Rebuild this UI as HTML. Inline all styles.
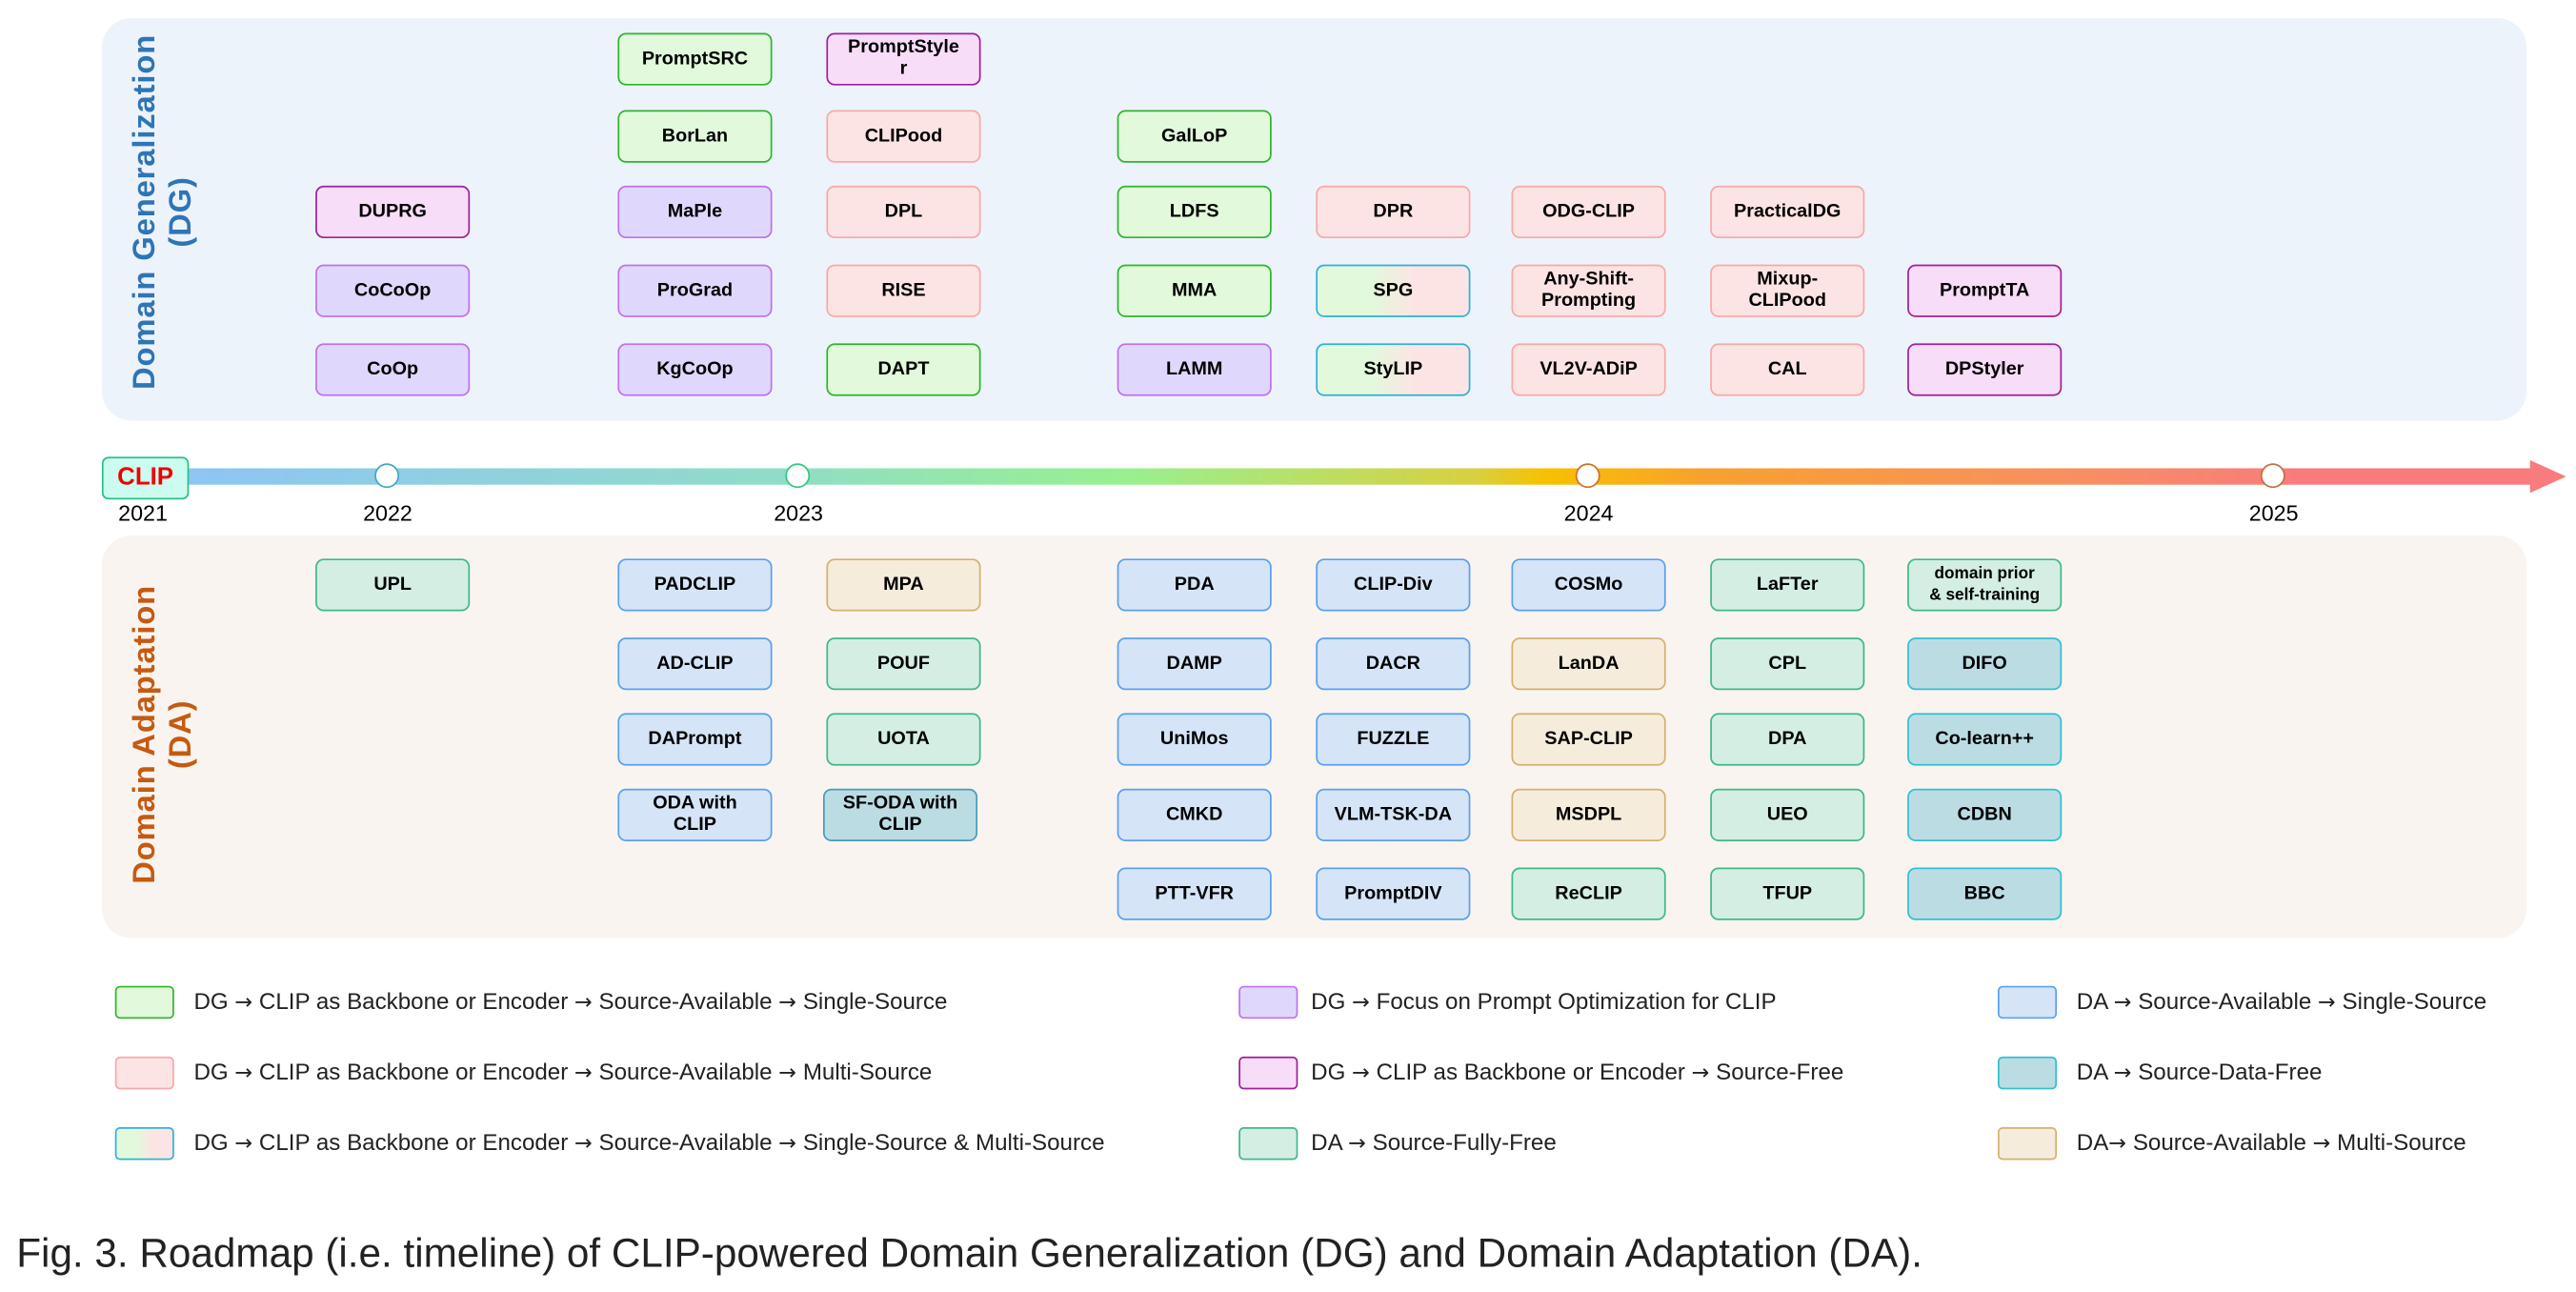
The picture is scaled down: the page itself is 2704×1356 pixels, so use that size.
<!DOCTYPE html>
<html><head><meta charset="utf-8">
<style>
html,body{margin:0;padding:0;background:#fff;}
body{width:2704px;height:1356px;overflow:hidden;position:relative;}
#s{position:absolute;left:0;top:0;width:1568px;height:786px;transform:scale(1.72449);transform-origin:0 0;font-family:"Liberation Sans",sans-serif;}
.p{position:absolute;border-radius:18px;}
.b{position:absolute;width:92px;height:30px;border-width:1.4px;border-style:solid;border-radius:5px;display:flex;align-items:center;justify-content:center;text-align:center;font-weight:bold;font-size:11.5px;line-height:13px;color:#000;box-sizing:content-box;}
.sw{position:absolute;width:34px;height:18px;border-width:1.4px;border-style:solid;border-radius:3px;}
.g{background:#e2f9dc;border-color:#2db52d}
.k{background:#f8ddf8;border-color:#a0209a}
.u{background:#e0d8fc;border-color:#c070f0}
.r{background:#fde4e4;border-color:#f8a8a8}
.m{background:linear-gradient(90deg,#e2f9dc 0,#e2f9dc 35%,#fde4e4 65%);border-color:#30b0d8}
.bl{background:#d6e4f8;border-color:#5aa0f0}
.f{background:#d4eee4;border-color:#40b888}
.d{background:#bcdce4;border-color:#30c0d0}
.ms{background:#f5ecdc;border-color:#d4b070}
.y{position:absolute;font-size:13.5px;color:#000;transform:translateX(-50%);top:305px;}
.c{position:absolute;width:13px;height:13px;border-radius:50%;background:#fff;border:1.4px solid;top:282px;}
.lt{position:absolute;font-size:14px;color:#222;white-space:nowrap;}
.a{font-family:"DejaVu Sans",sans-serif;font-size:13px;}
.vt{position:absolute;transform:rotate(-90deg);transform-origin:center;font-weight:bold;font-size:19px;text-align:center;line-height:22px;white-space:nowrap;letter-spacing:0.5px;}
</style></head><body><div id="s">
<div class="p" style="left:62px;top:11px;width:1476px;height:245px;background:#edf3fa"></div>
<div class="p" style="left:62px;top:326px;width:1476px;height:245px;background:#f9f4f0"></div>
<div class="vt" style="left:-20px;top:107px;width:240px;color:#2e75b6">Domain Generalization<br>(DG)</div>
<div class="vt" style="left:-20px;top:425px;width:240px;color:#c55a11">Domain Adaptation<br>(DA)</div>

<div style="position:absolute;left:112px;top:285px;width:1430px;height:10px;background:linear-gradient(90deg,#8ec5f5 0%,#90dcc8 25%,#98f090 40%,#d8d040 55%,#f8c000 58%,#f8a030 65%,#f89060 80%,#f87c7c 90%,#f87c7c 100%)"></div>
<div style="position:absolute;left:1540px;top:280px;width:0;height:0;border-top:10px solid transparent;border-bottom:10px solid transparent;border-left:22px solid #f87c7c"></div>
<div style="position:absolute;left:62px;top:278px;width:51px;height:24px;background:#ccfcf0;border:1.4px solid #2ac08a;border-radius:4px;color:#e00;font-weight:bold;font-size:15px;line-height:24px;text-align:center">CLIP</div>
<div class="c" style="left:228px;border-color:#40a8c0"></div>
<div class="c" style="left:478px;border-color:#30c880"></div>
<div class="c" style="left:959px;border-color:#d07020"></div>
<div class="c" style="left:1376px;border-color:#c07040"></div>
<div class="y" style="left:87px">2021</div><div class="y" style="left:236px">2022</div><div class="y" style="left:486px">2023</div><div class="y" style="left:967px">2024</div><div class="y" style="left:1384px">2025</div>

<!-- DG -->
<div class="b k" style="left:192px;top:113px">DUPRG</div>
<div class="b u" style="left:192px;top:161px">CoCoOp</div>
<div class="b u" style="left:192px;top:209px">CoOp</div>
<div class="b g" style="left:376px;top:20px">PromptSRC</div>
<div class="b g" style="left:376px;top:67px">BorLan</div>
<div class="b u" style="left:376px;top:113px">MaPle</div>
<div class="b u" style="left:376px;top:161px">ProGrad</div>
<div class="b u" style="left:376px;top:209px">KgCoOp</div>
<div class="b k" style="left:503px;top:20px">PromptStyle<br>r</div>
<div class="b r" style="left:503px;top:67px">CLIPood</div>
<div class="b r" style="left:503px;top:113px">DPL</div>
<div class="b r" style="left:503px;top:161px">RISE</div>
<div class="b g" style="left:503px;top:209px">DAPT</div>
<div class="b g" style="left:680px;top:67px">GalLoP</div>
<div class="b g" style="left:680px;top:113px">LDFS</div>
<div class="b g" style="left:680px;top:161px">MMA</div>
<div class="b u" style="left:680px;top:209px">LAMM</div>
<div class="b r" style="left:801px;top:113px">DPR</div>
<div class="b m" style="left:801px;top:161px">SPG</div>
<div class="b m" style="left:801px;top:209px">StyLIP</div>
<div class="b r" style="left:920px;top:113px">ODG-CLIP</div>
<div class="b r" style="left:920px;top:161px">Any-Shift-<br>Prompting</div>
<div class="b r" style="left:920px;top:209px">VL2V-ADiP</div>
<div class="b r" style="left:1041px;top:113px">PracticalDG</div>
<div class="b r" style="left:1041px;top:161px">Mixup-<br>CLIPood</div>
<div class="b r" style="left:1041px;top:209px">CAL</div>
<div class="b k" style="left:1161px;top:161px">PromptTA</div>
<div class="b k" style="left:1161px;top:209px">DPStyler</div>

<!-- DA -->
<div class="b f" style="left:192px;top:340px">UPL</div>
<div class="b bl" style="left:376px;top:340px">PADCLIP</div>
<div class="b bl" style="left:376px;top:388px">AD-CLIP</div>
<div class="b bl" style="left:376px;top:434px">DAPrompt</div>
<div class="b bl" style="left:376px;top:480px">ODA with<br>CLIP</div>
<div class="b ms" style="left:503px;top:340px">MPA</div>
<div class="b f" style="left:503px;top:388px">POUF</div>
<div class="b f" style="left:503px;top:434px">UOTA</div>
<div class="b d" style="left:501px;top:480px;border-color:#4a9ab8">SF-ODA with<br>CLIP</div>
<div class="b bl" style="left:680px;top:340px">PDA</div>
<div class="b bl" style="left:680px;top:388px">DAMP</div>
<div class="b bl" style="left:680px;top:434px">UniMos</div>
<div class="b bl" style="left:680px;top:480px">CMKD</div>
<div class="b bl" style="left:680px;top:528px">PTT-VFR</div>
<div class="b bl" style="left:801px;top:340px">CLIP-Div</div>
<div class="b bl" style="left:801px;top:388px">DACR</div>
<div class="b bl" style="left:801px;top:434px">FUZZLE</div>
<div class="b bl" style="left:801px;top:480px">VLM-TSK-DA</div>
<div class="b bl" style="left:801px;top:528px">PromptDIV</div>
<div class="b bl" style="left:920px;top:340px">COSMo</div>
<div class="b ms" style="left:920px;top:388px">LanDA</div>
<div class="b ms" style="left:920px;top:434px">SAP-CLIP</div>
<div class="b ms" style="left:920px;top:480px">MSDPL</div>
<div class="b f" style="left:920px;top:528px">ReCLIP</div>
<div class="b f" style="left:1041px;top:340px">LaFTer</div>
<div class="b f" style="left:1041px;top:388px">CPL</div>
<div class="b f" style="left:1041px;top:434px">DPA</div>
<div class="b f" style="left:1041px;top:480px">UEO</div>
<div class="b f" style="left:1041px;top:528px">TFUP</div>
<div class="b f" style="left:1161px;top:340px;font-size:10px;line-height:13px">domain prior<br>&amp; self-training</div>
<div class="b d" style="left:1161px;top:388px">DIFO</div>
<div class="b d" style="left:1161px;top:434px">Co-learn++</div>
<div class="b d" style="left:1161px;top:480px">CDBN</div>
<div class="b d" style="left:1161px;top:528px">BBC</div>

<!-- legend -->
<div class="sw g" style="left:70px;top:600px"></div><div class="lt" style="left:118px;top:601px">DG <span class="a">→</span> CLIP as Backbone or Encoder <span class="a">→</span> Source-Available <span class="a">→</span> Single-Source</div>
<div class="sw r" style="left:70px;top:643px"></div><div class="lt" style="left:118px;top:644px">DG <span class="a">→</span> CLIP as Backbone or Encoder <span class="a">→</span> Source-Available <span class="a">→</span> Multi-Source</div>
<div class="sw m" style="left:70px;top:686px"></div><div class="lt" style="left:118px;top:687px">DG <span class="a">→</span> CLIP as Backbone or Encoder <span class="a">→</span> Source-Available <span class="a">→</span> Single-Source &amp; Multi-Source</div>
<div class="sw u" style="left:754px;top:600px"></div><div class="lt" style="left:798px;top:601px">DG <span class="a">→</span> Focus on Prompt Optimization for CLIP</div>
<div class="sw k" style="left:754px;top:643px"></div><div class="lt" style="left:798px;top:644px">DG <span class="a">→</span> CLIP as Backbone or Encoder <span class="a">→</span> Source-Free</div>
<div class="sw f" style="left:754px;top:686px"></div><div class="lt" style="left:798px;top:687px">DA <span class="a">→</span> Source-Fully-Free</div>
<div class="sw bl" style="left:1216px;top:600px"></div><div class="lt" style="left:1264px;top:601px">DA <span class="a">→</span> Source-Available <span class="a">→</span> Single-Source</div>
<div class="sw d" style="left:1216px;top:643px"></div><div class="lt" style="left:1264px;top:644px">DA <span class="a">→</span> Source-Data-Free</div>
<div class="sw ms" style="left:1216px;top:686px"></div><div class="lt" style="left:1264px;top:687px">DA<span class="a">→</span> Source-Available <span class="a">→</span> Multi-Source</div>

<div style="position:absolute;left:10px;top:750px;font-size:24.5px;color:#222;white-space:nowrap">Fig. 3. Roadmap (i.e. timeline) of CLIP-powered Domain Generalization (DG) and Domain Adaptation (DA).</div>
</div></body></html>
